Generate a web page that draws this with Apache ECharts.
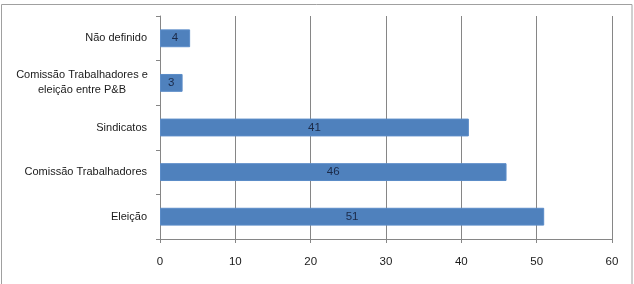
<!DOCTYPE html>
<html><head><meta charset="utf-8">
<script src="https://cdn.jsdelivr.net/npm/echarts@6/dist/echarts.min.js"></script>
<style>html,body{margin:0;padding:0;background:#fff}#c{width:634px;height:284px}</style>
</head><body><div id="c"></div>
<script>
const categories = ["Eleição", "Comissão Trabalhadores", "Sindicatos", "Comissão Trabalhadores e\neleição entre P&B", "Não definido"];
const values = [51, 46, 41, 3, 4];
const xTicks = [0, 10, 20, 30, 40, 50, 60];

const chart = echarts.init(document.getElementById('c'));
const font = 'Liberation Sans';
chart.setOption({
  animation: false,
  graphic: [{type: 'rect', shape: {x: 1.5, y: 4.5, width: 630.5, height: 300}, style: {fill: 'none', stroke: '#a0a0a0', lineWidth: 1}, z: -1}],
  grid: {left: 160, right: 22, top: 16, bottom: 45, containLabel: false},
  xAxis: {
    type: 'value', min: xTicks[0], max: xTicks[xTicks.length - 1], interval: 10,
    axisLine: {show: true, lineStyle: {color: '#868686'}},
    axisTick: {show: true, length: 4, lineStyle: {color: '#868686'}},
    splitLine: {show: true, lineStyle: {color: '#868686'}},
    axisLabel: {color: '#1a1a1a', fontFamily: font, fontSize: 11.5, margin: 17}
  },
  yAxis: {
    type: 'category', data: categories,
    axisLine: {show: true, lineStyle: {color: '#868686'}},
    axisTick: {show: true, length: 4, lineStyle: {color: '#868686'}},
    axisLabel: {
      color: '#1a1a1a', fontFamily: font, fontSize: 11, margin: 13, lineHeight: 15,
      formatter: function (v) {
        if (v.indexOf('\n') >= 0) {
          return v.split('\n').map(function (s) { return '{c|' + s + '}'; }).join('\n');
        }
        return v;
      },
      rich: {c: {width: 130, align: 'center', fontFamily: font, fontSize: 11, color: '#1a1a1a', lineHeight: 15}}
    }
  },
  series: [{
    type: 'bar', data: values, barWidth: '40%',
    itemStyle: {color: '#4f81bd', borderColor: '#5b8cc8', borderWidth: 1},
    label: {show: true, position: 'inside', color: '#1b2a48', fontFamily: font, fontSize: 11.5}
  }]
});
</script></body></html>
